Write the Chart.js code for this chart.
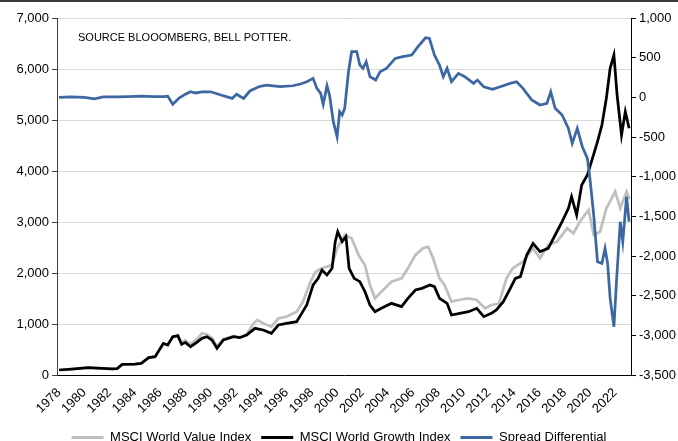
<!DOCTYPE html>
<html>
<head>
<meta charset="utf-8">
<script src="https://cdn.jsdelivr.net/npm/chart.js@4.4.1/dist/chart.umd.min.js"></script>
<style>
  body { margin: 0; overflow: hidden; background: #fff; }
  #wrap { position: relative; width: 678px; height: 454px; }
</style>
</head>
<body>
<div id="wrap"><canvas id="myChart"></canvas></div>
<script>
// year positions are decimal years
var valueYears = [1978.0, 1979.0, 1980.3, 1981.0, 1982.2, 1982.6, 1983.0, 1984.0, 1984.5, 1985.1, 1985.6, 1986.25, 1986.6, 1987.0, 1987.4, 1987.7, 1988.0, 1988.4, 1988.9, 1989.3, 1989.7, 1990.1, 1990.5, 1991.0, 1991.8, 1992.3, 1992.85, 1993.4, 1993.7, 1994.15, 1994.8, 1995.35, 1996.0, 1996.8, 1997.3, 1997.9, 1998.3, 1998.8, 1999.2, 1999.6, 2000.0, 2000.6, 2001.15, 2001.7, 2002.2, 2002.6, 2003.0, 2003.5, 2004.3, 2005.1, 2005.6, 2006.2, 2006.8, 2007.2, 2007.6, 2008.1, 2008.5, 2009.05, 2009.6, 2010.4, 2011.05, 2011.7, 2012.2, 2012.8, 2013.4, 2013.9, 2014.7, 2015.5, 2016.05, 2016.7, 2017.4, 2018.2, 2018.7, 2019.2, 2019.9, 2020.3, 2020.8, 2021.3, 2022.0, 2022.4, 2022.9, 2023.15];
var valueIdx = [98, 115, 143, 135, 118, 125, 209, 215, 229, 340, 359, 600, 600, 740, 760, 640, 680, 600, 700, 816, 800, 720, 560, 700, 760, 740, 800, 1013, 1078, 1013, 948, 1111, 1144, 1242, 1438, 1830, 2026, 2092, 2125, 2157, 2484, 2745, 2680, 2353, 2157, 1765, 1503, 1634, 1830, 1895, 2092, 2353, 2484, 2516, 2288, 1895, 1765, 1438, 1471, 1503, 1471, 1307, 1373, 1400, 1895, 2092, 2222, 2484, 2288, 2549, 2614, 2876, 2778, 3007, 3235, 2745, 2810, 3268, 3595, 3268, 3595, 3450];

var growthYears = [1978.0, 1979.0, 1980.3, 1981.0, 1982.2, 1982.6, 1983.0, 1984.0, 1984.5, 1985.1, 1985.6, 1986.25, 1986.6, 1987.0, 1987.4, 1987.7, 1988.0, 1988.4, 1988.9, 1989.3, 1989.7, 1990.1, 1990.5, 1991.0, 1991.8, 1992.3, 1992.85, 1993.5, 1994.15, 1994.8, 1995.35, 1996.0, 1996.8, 1997.2, 1997.6, 1998.1, 1998.5, 1998.8, 1999.2, 1999.6, 1999.85, 2000.05, 2000.4, 2000.7, 2000.95, 2001.35, 2001.8, 2002.2, 2002.6, 2003.0, 2003.5, 2004.3, 2005.1, 2005.6, 2006.2, 2006.7, 2007.35, 2007.7, 2008.1, 2008.7, 2009.05, 2009.7, 2010.4, 2011.05, 2011.6, 2012.2, 2012.6, 2013.15, 2013.7, 2014.1, 2014.5, 2015.0, 2015.5, 2016.05, 2016.7, 2017.25, 2017.8, 2018.3, 2018.55, 2018.95, 2019.35, 2019.8, 2020.2, 2020.6, 2020.95, 2021.3, 2021.6, 2021.9, 2022.15, 2022.5, 2022.8, 2023.1];
var growthIdx = [98, 115, 143, 135, 118, 125, 209, 215, 229, 340, 359, 621, 588, 752, 771, 601, 640, 555, 640, 719, 752, 686, 523, 686, 752, 732, 784, 915, 882, 817, 980, 1013, 1046, 1209, 1373, 1765, 1895, 2059, 1961, 2092, 2614, 2810, 2614, 2712, 2092, 1895, 1830, 1634, 1373, 1242, 1307, 1405, 1340, 1503, 1667, 1699, 1765, 1732, 1503, 1405, 1176, 1209, 1242, 1307, 1144, 1209, 1275, 1438, 1699, 1895, 1928, 2353, 2582, 2418, 2484, 2745, 3007, 3268, 3497, 3137, 3725, 3922, 4248, 4575, 4902, 5425, 6013, 6275, 5490, 4706, 5163, 4837];

var spreadYears = [1978.0, 1979.0, 1980.0, 1980.8, 1981.5, 1982.5, 1983.5, 1984.5, 1985.5, 1986.3, 1986.6, 1987.0, 1987.5, 1988.0, 1988.4, 1988.8, 1989.3, 1990.0, 1990.8, 1991.7, 1992.05, 1992.6, 1993.1, 1993.8, 1994.4, 1995.5, 1996.5, 1997.1, 1997.6, 1998.1, 1998.4, 1998.7, 1998.9, 1999.2, 1999.4, 1999.7, 2000.0, 2000.2, 2000.4, 2000.6, 2000.9, 2001.15, 2001.55, 2001.8, 2002.05, 2002.3, 2002.6, 2003.05, 2003.4, 2003.9, 2004.6, 2005.2, 2005.9, 2006.4, 2007.0, 2007.3, 2007.7, 2008.1, 2008.4, 2008.7, 2009.05, 2009.6, 2010.1, 2010.8, 2011.1, 2011.6, 2012.3, 2012.9, 2013.7, 2014.2, 2014.7, 2015.4, 2016.05, 2016.6, 2016.9, 2017.25, 2017.8, 2018.3, 2018.6, 2019.0, 2019.4, 2019.8, 2020.0, 2020.3, 2020.6, 2020.95, 2021.2, 2021.4, 2021.6, 2021.9, 2022.1, 2022.4, 2022.6, 2022.9, 2023.1];
var spreadVals = [0, 5, 0, -20, 5, 5, 10, 15, 10, 10, 15, -88, -10, 40, 70, 55, 70, 70, 30, -13, 38, -13, 80, 134, 155, 134, 146, 168, 197, 239, 113, 50, -88, 146, 29, -307, -497, -181, -223, -139, 323, 575, 575, 407, 365, 449, 260, 218, 323, 365, 491, 512, 533, 638, 751, 743, 533, 407, 260, 365, 197, 302, 260, 176, 218, 134, 100, 134, 176, 197, 113, -34, -97, -76, 70, -139, -223, -391, -580, -391, -622, -769, -1021, -1484, -2072, -2093, -1904, -2093, -2534, -2892, -2324, -1568, -1820, -1253, -1568];

var tickYears = [1978, 1980, 1982, 1984, 1986, 1988, 1990, 1992, 1994, 1996, 1998, 2000, 2002, 2004, 2006, 2008, 2010, 2012, 2014, 2016, 2018, 2020, 2022];

function pts(xs, ys) {
  return xs.map((x, i) => ({ x: x, y: ys[i] }));
}

// source note + thin frame line at the top
const notePlugin = {
  id: 'note',
  afterDraw(chart) {
    const ctx = chart.ctx;
    ctx.save();
    ctx.fillStyle = '#3a3a3a';
    ctx.fillRect(0, 0, chart.width, 2);
    ctx.fillStyle = '#000';
    ctx.font = '11px "Liberation Sans", Arial, sans-serif';
    ctx.textBaseline = 'middle';
    ctx.fillText('SOURCE BLOOOMBERG, BELL POTTER.', 78, 38);
    ctx.restore();
  }
};

Chart.defaults.font.family = '"Liberation Sans", Arial, sans-serif';
Chart.defaults.font.size = 13;
Chart.defaults.color = '#000';

const ctx = document.getElementById('myChart');
new Chart(ctx, {
  type: 'line',
  data: {
    datasets: [
      {
        label: 'MSCI World Value Index',
        data: pts(valueYears, valueIdx),
        borderColor: '#bfbfbf',
        backgroundColor: '#bfbfbf',
        borderWidth: 2.75,
        yAxisID: 'y',
        order: 3
      },
      {
        label: 'MSCI World Growth Index',
        data: pts(growthYears, growthIdx),
        borderColor: '#000000',
        backgroundColor: '#000000',
        borderWidth: 2.75,
        yAxisID: 'y',
        order: 2
      },
      {
        label: 'Spread Differential',
        data: pts(spreadYears, spreadVals),
        borderColor: '#3d67a3',
        backgroundColor: '#3d67a3',
        borderWidth: 2.75,
        yAxisID: 'y2',
        order: 1
      }
    ]
  },
  options: {
    responsive: true,
    maintainAspectRatio: false,
    animation: false,
    elements: { point: { radius: 0 }, line: { tension: 0 } },
    layout: { padding: { top: 18, left: 0, right: 0, bottom: 0 } },
    plugins: {
      tooltip: { enabled: false },
      legend: {
        position: 'bottom',
        reverse: true,
        labels: {
          boxWidth: 32,
          boxHeight: 3,
          padding: 10,
          font: { size: 13 },
          generateLabels(chart) {
            const items = Chart.defaults.plugins.legend.labels.generateLabels(chart);
            return items.map(it => Object.assign(it, { lineWidth: 0 }));
          }
        }
      }
    },
    scales: {
      x: {
        type: 'linear',
        min: 1977.84,
        max: 2023.25,
        grid: { display: false },
        border: { color: '#000', width: 1 },
        afterBuildTicks(scale) {
          scale.ticks = tickYears.map(v => ({ value: v }));
        },
        afterFit(scale) { scale.height = 46; },
        ticks: {
          autoSkip: false,
          minRotation: 45,
          maxRotation: 45,
          padding: 2,
          callback: v => String(v)
        }
      },
      y: {
        position: 'left',
        min: 0,
        max: 7000,
        grid: { color: '#d9d9d9', tickColor: '#404040', tickLength: 5 },
        border: { color: '#404040', width: 1 },
        afterFit(scale) { scale.width = 57; },
        ticks: {
          stepSize: 1000,
          padding: 3,
          callback: v => v.toLocaleString('en-US')
        }
      },
      y2: {
        position: 'right',
        min: -3500,
        max: 1000,
        grid: { drawOnChartArea: false, tickColor: '#000', tickLength: 5 },
        border: { color: '#000', width: 1 },
        afterFit(scale) { scale.width = 47; },
        ticks: {
          stepSize: 500,
          padding: 3,
          callback: v => v.toLocaleString('en-US')
        }
      }
    }
  },
  plugins: [notePlugin]
});
</script>
</body>
</html>
